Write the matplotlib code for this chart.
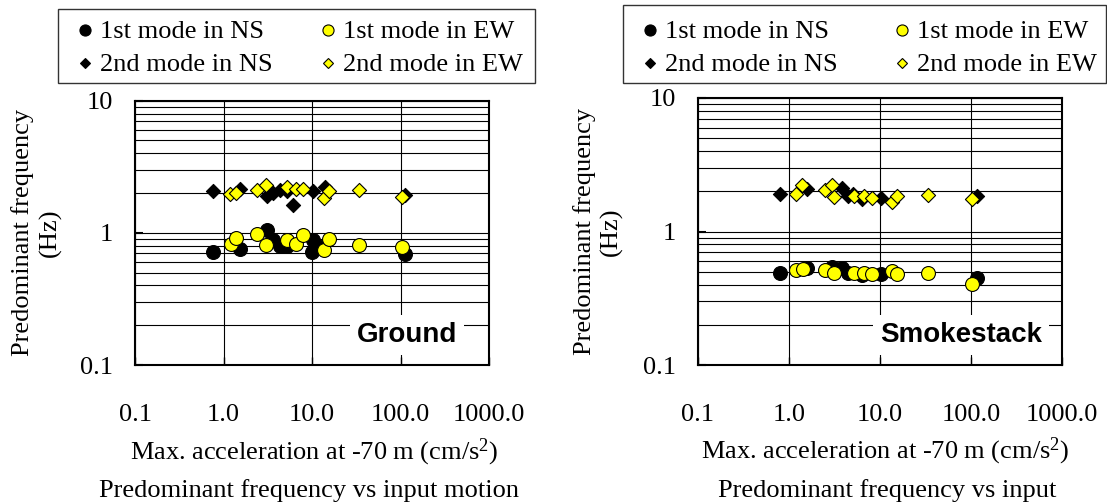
import matplotlib
matplotlib.use("Agg")
import matplotlib.pyplot as plt
from matplotlib.lines import Line2D
from matplotlib.patches import Rectangle
from matplotlib.ticker import FixedLocator, NullLocator, FixedFormatter, LogLocator, NullFormatter

# ---------------- data ----------------
# Ground
g_ns1_x = [0.77, 1.53, 3.07, 3.66, 4.35, 5.17, 10.1, 10.3, 13.0, 112]
g_ns1_y = [0.72, 0.76, 1.05, 0.89, 0.795, 0.795, 0.72, 0.89, 0.78, 0.687]
g_ew1_x = [1.2, 1.37, 2.37, 3.02, 5.17, 6.6, 7.98, 13.7, 15.6, 34.3, 103]
g_ew1_y = [0.83, 0.91, 0.98, 0.81, 0.88, 0.83, 0.965, 0.74, 0.90, 0.81, 0.777]
g_ns2_x = [0.77, 1.53, 3.07, 3.66, 4.35, 5.17, 6.15, 10.3, 14.0, 112]
g_ns2_y = [2.07, 2.13, 1.90, 2.01, 2.10, 2.07, 1.63, 2.07, 2.24, 1.93]
g_ew2_x = [1.18, 1.38, 2.37, 3.02, 5.17, 6.6, 7.98, 13.7, 15.6, 34.3, 103]
g_ew2_y = [1.97, 2.0, 2.1, 2.30, 2.22, 2.13, 2.16, 1.82, 2.08, 2.1, 1.88]

# Smokestack
s_ns1_x = [0.79, 1.58, 3.0, 3.85, 4.45, 6.4, 10.35, 116]
s_ns1_y = [0.49, 0.537, 0.54, 0.53, 0.49, 0.47, 0.48, 0.45]
s_ew1_x = [1.18, 1.42, 2.47, 3.1, 5.14, 6.6, 8.1, 13.6, 15.5, 34, 103.5]
s_ew1_y = [0.516, 0.52, 0.516, 0.49, 0.49, 0.49, 0.48, 0.505, 0.48, 0.49, 0.405]
s_ns2_x = [0.79, 1.58, 3.85, 4.45, 5.05, 6.4, 10.35, 116]
s_ns2_y = [1.92, 2.08, 2.11, 1.85, 1.92, 1.75, 1.78, 1.85]
s_ew2_x = [1.18, 1.40, 2.47, 2.99, 3.1, 5.14, 6.6, 8.1, 13.6, 15.5, 34, 103.5]
s_ew2_y = [1.92, 2.24, 2.05, 2.24, 1.81, 1.83, 1.85, 1.78, 1.66, 1.83, 1.88, 1.74]

legend_labels = ["1st mode in NS", "1st mode in EW", "2nd mode in NS", "2nd mode in EW"]
x_ticks = [0.1, 1, 10, 100, 1000]
x_tick_labels = ["0.1", "1.0", "10.0", "100.0", "1000.0"]
y_ticks = [0.1, 1, 10]
y_tick_labels = ["0.1", "1", "10"]
panel_names = ["Ground", "Smokestack"]
captions = ["Predominant frequency vs input motion", "Predominant frequency vs input"]
xlabel = "Max. acceleration at -70 m (cm/s$^2$)"
ylabel = "Predominant frequency\n(Hz)"

# ---------------- figure ----------------
W, H = 1107, 503
plt.rcParams['font.family'] = ['Liberation Serif', 'DejaVu Serif']
plt.rcParams['mathtext.fontset'] = 'custom'
plt.rcParams['mathtext.rm'] = 'Liberation Serif'
plt.rcParams['mathtext.it'] = 'Liberation Serif:italic'
FS = 19

fig = plt.figure(figsize=(W / 100, H / 100), dpi=100)

def fx(px):
    return px / W

def fy(py):
    return 1 - py / H

axes_px = [(135, 100.7, 489, 365), (698, 98, 1062, 365)]
YELLOW = '#FFFF00'

datasets = [
    (g_ns1_x, g_ns1_y, g_ew1_x, g_ew1_y, g_ns2_x, g_ns2_y, g_ew2_x, g_ew2_y),
    (s_ns1_x, s_ns1_y, s_ew1_x, s_ew1_y, s_ns2_x, s_ns2_y, s_ew2_x, s_ew2_y),
]
name_box = [(407, 335), (961, 335)]
xlabel_pos = [(314, 459), (885, 458)]
caption_pos = [(309, 497), (887, 497)]
ylabel_x = [36.5, 598]

for i, (l, t, r, b) in enumerate(axes_px):
    ax = fig.add_axes([fx(l), fy(b), fx(r - l), (b - t) / H])
    ax.set_xscale('log')
    ax.set_yscale('log')
    ax.set_xlim(0.1, 1000)
    ax.set_ylim(0.1, 10)
    ax.xaxis.set_major_locator(FixedLocator(x_ticks))
    ax.xaxis.set_major_formatter(FixedFormatter(x_tick_labels))
    ax.xaxis.set_minor_locator(NullLocator())
    ax.yaxis.set_major_locator(FixedLocator(y_ticks))
    ax.yaxis.set_major_formatter(FixedFormatter(y_tick_labels))
    ax.yaxis.set_minor_locator(LogLocator(base=10, subs=range(2, 10)))
    ax.yaxis.set_minor_formatter(NullFormatter())
    ax.tick_params(axis='x', which='major', direction='in', length=6, width=1,
                   pad=28, labelsize=FS)
    ax.tick_params(axis='y', which='major', direction='in', length=6, width=1.5,
                   pad=16, labelsize=FS)
    ax.tick_params(axis='y', which='minor', length=0)
    ax.grid(True, which='major', axis='x', color='black', linewidth=0.8)
    ax.grid(True, which='both', axis='y', color='black', linewidth=0.8)
    ax.set_axisbelow(True)
    for sp in ax.spines.values():
        sp.set_linewidth(1.5)
        sp.set_color('black')

    ns1x, ns1y, ew1x, ew1y, ns2x, ns2y, ew2x, ew2y = datasets[i]
    ax.scatter(ns1x, ns1y, s=100, marker='o', facecolor='black', edgecolor='black',
               linewidth=0.8, zorder=3)
    ax.scatter(ew1x, ew1y, s=100, marker='o', facecolor=YELLOW, edgecolor='black',
               linewidth=0.8, zorder=4)
    ax.scatter(ns2x, ns2y, s=52, marker='D', facecolor='black', edgecolor='black',
               linewidth=0.8, zorder=3)
    ax.scatter(ew2x, ew2y, s=52, marker='D', facecolor=YELLOW, edgecolor='black',
               linewidth=0.8, zorder=4)

    # panel name with white box
    nx, ny = name_box[i]
    fig.text(fx(nx), fy(ny), panel_names[i], family='Liberation Sans',
             fontweight='bold', fontsize=20, ha='center', va='center', zorder=10,
             bbox=dict(facecolor='white', edgecolor='none', pad=5))

    # labels
    lx, ly = xlabel_pos[i]
    fig.text(fx(lx), fy(ly), xlabel, fontsize=FS, ha='center', va='baseline')
    cx, cy = caption_pos[i]
    fig.text(fx(cx), fy(cy), captions[i], fontsize=FS, ha='center', va='baseline')
    fig.text(fx(ylabel_x[i]), fy((t + b) / 2), ylabel, fontsize=FS, rotation=90,
             ha='center', va='center', multialignment='center', linespacing=1.25)

# ---------------- legends (drawn manually) ----------------
legend_boxes = [(58, 9, 535, 83), (623, 5, 1106, 83)]
col_marker_x = [(85, 328), (650, 902)]
row_y = [30, 63]
styles = [
    dict(marker='o', markersize=8, markerfacecolor='black', markeredgecolor='black'),
    dict(marker='o', markersize=8, markerfacecolor=YELLOW, markeredgecolor='black'),
    dict(marker='D', markersize=5.4, markerfacecolor='black', markeredgecolor='black'),
    dict(marker='D', markersize=5.4, markerfacecolor=YELLOW, markeredgecolor='black'),
]
for k, (l, t, r, b) in enumerate(legend_boxes):
    fig.add_artist(Rectangle((fx(l), fy(b)), fx(r - l), (b - t) / H,
                             transform=fig.transFigure, facecolor='white',
                             edgecolor='#333333', linewidth=1.0, zorder=1))
    for j, lab in enumerate(legend_labels):
        col = j % 2
        row = j // 2
        mx = col_marker_x[k][col]
        my = row_y[row]
        fig.add_artist(Line2D([fx(mx)], [fy(my)], transform=fig.transFigure,
                              linestyle='none', markeredgewidth=0.8, zorder=2,
                              **styles[j]))
        fig.text(fx(mx + 15), fy(my), lab, fontsize=FS, ha='left', va='center_baseline',
                 zorder=2)

fig.savefig("out.png", dpi=100)
